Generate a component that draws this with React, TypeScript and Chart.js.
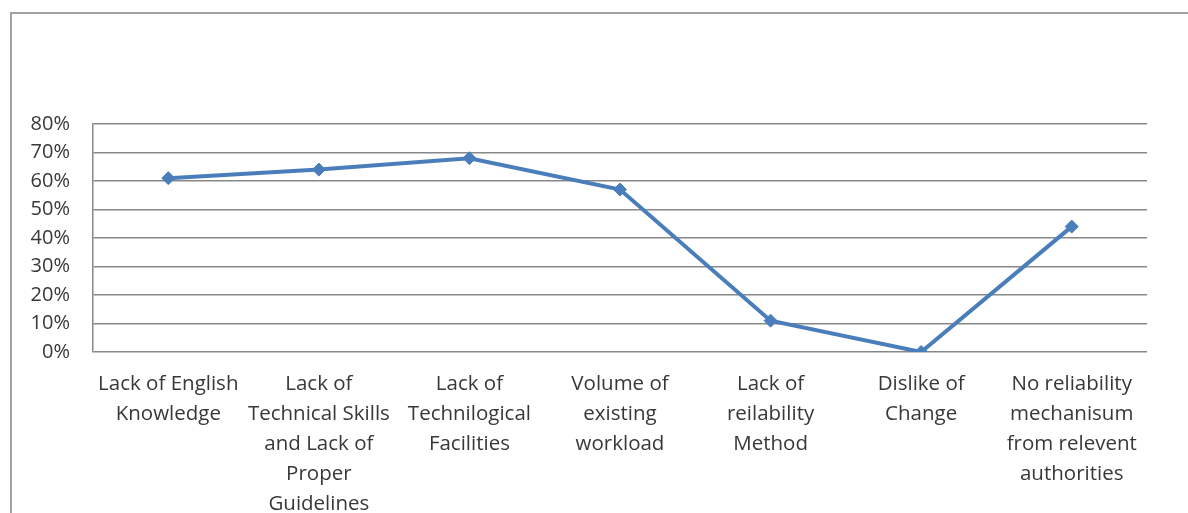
import React, { useEffect, useRef } from "react";
import { Chart, registerables } from "chart.js";

Chart.register(...registerables);

const categories: (string | string[])[] = [
  ["Lack of English", "Knowledge"],
  ["Lack of", "Technical Skills", "and Lack of", "Proper", "Guidelines"],
  ["Lack of", "Technilogical", "Facilities"],
  ["Volume of", "existing", "workload"],
  ["Lack of", "reilability", "Method"],
  ["Dislike of", "Change"],
  ["No reliability", "mechanisum", "from relevent", "authorities"],
];

const values: number[] = [61, 64, 68, 57, 11, 0, 44];

const yTicks: number[] = [0, 10, 20, 30, 40, 50, 60, 70, 80];

const frame = {
  id: "outerFrame",
  beforeDraw(chart: any) {
    const ctx = chart.ctx;
    ctx.save();
    ctx.strokeStyle = "#a3a3a3";
    ctx.lineWidth = 2;
    ctx.beginPath();
    ctx.moveTo(10, 13);
    ctx.lineTo(1188, 13);
    ctx.moveTo(11, 12);
    ctx.lineTo(11, 513);
    ctx.stroke();
    ctx.restore();
  },
};

export default function App() {
  const ref = useRef<HTMLCanvasElement | null>(null);

  useEffect(() => {
    if (!ref.current) return;
    const chart = new Chart(ref.current, {
      type: "line",
      data: {
        labels: categories,
        datasets: [
          {
            data: values,
            borderColor: "#4a7ebb",
            backgroundColor: "#4a7ebb",
            borderWidth: 4,
            pointStyle: "rectRot",
            pointRadius: 6.5,
            pointBorderWidth: 1,
            pointBackgroundColor: "#4a7ebb",
            pointBorderColor: "#4a7ebb",
            tension: 0,
          },
        ],
      },
      options: {
        animation: false,
        responsive: false,
        maintainAspectRatio: false,
        layout: { padding: { top: 124, right: 41, left: 0, bottom: 0 } },
        plugins: { legend: { display: false }, tooltip: { enabled: false } },
        scales: {
          x: {
            offset: true,
            grid: { display: false, drawTicks: false },
            border: { display: false },
            ticks: {
              padding: 17,
              color: "#383838",
              maxRotation: 0,
              autoSkip: false,
              font: { family: "'Open Sans'", size: 20.5, lineHeight: "30px" as any },
            },
            afterFit(scale: any) {
              scale.height = 161;
            },
          },
          y: {
            min: 0,
            max: 80,
            afterBuildTicks(scale: any) {
              scale.ticks = yTicks.map((v) => ({ value: v }));
            },
            grid: { color: "#888888", lineWidth: 1.5, drawTicks: false },
            border: { display: true, color: "#888888", width: 1.5 },
            ticks: {
              padding: 23,
              color: "#383838",
              font: { family: "'Open Sans'", size: 20 },
              callback: (v: any) => `${v}%`,
            },
            afterFit(scale: any) {
              scale.width = 93;
            },
          },
        },
      },
      plugins: [frame],
    });
    return () => chart.destroy();
  }, []);

  return (
    <div style={{ position: "absolute", left: 0, top: 0, width: 1188, height: 513, background: "#fff" }}>
      <canvas ref={ref} width={1188} height={513} style={{ width: 1188, height: 513, display: "block" }} />
    </div>
  );
}
